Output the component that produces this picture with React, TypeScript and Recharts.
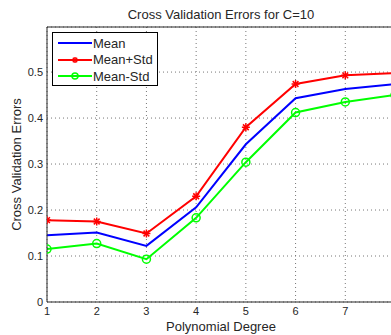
import React from "react";
import {
  LineChart,
  Line,
  XAxis,
  YAxis,
  CartesianGrid,
  ReferenceLine,
  Legend,
  Label,
} from "recharts";

const degrees = [1, 2, 3, 4, 5, 6, 7, 8];
const meanErr = [0.145, 0.151, 0.122, 0.206, 0.343, 0.443, 0.463, 0.474];
const meanPlusStd = [0.178, 0.175, 0.149, 0.23, 0.38, 0.474, 0.493, 0.498];
const meanMinusStd = [0.115, 0.127, 0.093, 0.183, 0.304, 0.412, 0.435, 0.45];
const xTicks = [1, 2, 3, 4, 5, 6, 7];
const yTicks = [0, 0.1, 0.2, 0.3, 0.4, 0.5];
const Y_MAX = 0.598;

const data = degrees.map((d, i) => ({
  deg: d,
  mean: meanErr[i],
  plus: meanPlusStd[i],
  minus: meanMinusStd[i],
}));

const FONT = "'Liberation Sans', Arial, sans-serif";
const TXT = "#262626";

function Star({ cx, cy, color, r = 4 }: any) {
  if (cx == null || cy == null) return null;
  const d = r * 0.72;
  return (
    <g stroke={color} strokeWidth={1.5}>
      <line x1={cx - r} y1={cy} x2={cx + r} y2={cy} />
      <line x1={cx} y1={cy - r} x2={cx} y2={cy + r} />
      <line x1={cx - d} y1={cy - d} x2={cx + d} y2={cy + d} />
      <line x1={cx - d} y1={cy + d} x2={cx + d} y2={cy - d} />
    </g>
  );
}

function Ring({ cx, cy, color, r = 4 }: any) {
  if (cx == null || cy == null) return null;
  return <circle cx={cx} cy={cy} r={r} fill="none" stroke={color} strokeWidth={1.5} />;
}

const series = [
  { key: "mean", name: "Mean", color: "#0000ff", marker: null },
  { key: "plus", name: "Mean+Std", color: "#ff0000", marker: "star" },
  { key: "minus", name: "Mean-Std", color: "#00ff00", marker: "ring" },
];

function LegendBox() {
  return (
    <div
      style={{
        width: 106,
        height: 54,
        border: "1px solid #000",
        background: "#fff",
        boxSizing: "border-box",
        fontFamily: FONT,
        fontSize: 13,
        color: TXT,
        paddingTop: 2,
        whiteSpace: "nowrap",
      }}
    >
      {series.map((s) => (
        <div key={s.key} style={{ display: "flex", alignItems: "center", height: 16.5 }}>
          <svg width={40} height={16} style={{ flex: "none" }}>
            <line x1={5} y1={8} x2={39} y2={8} stroke={s.color} strokeWidth={2} />
            {s.marker === "star" && <Star cx={22} cy={8} color={s.color} r={3} />}
            {s.marker === "ring" && <Ring cx={22} cy={8} color={s.color} r={3} />}
          </svg>
          <span>{s.name}</span>
        </div>
      ))}
    </div>
  );
}

export default function App() {
  return (
    <div
      style={{
        position: "fixed",
        left: 0,
        top: 0,
        width: 391,
        height: 335,
        overflow: "hidden",
        background: "#fff",
      }}
    >
      <div
        style={{
          position: "absolute",
          top: 7,
          left: 47,
          width: 348,
          textAlign: "center",
          fontFamily: FONT,
          fontSize: 13,
          color: TXT,
        }}
      >
        Cross Validation Errors for C=10
      </div>
      <LineChart
        width={400}
        height={335}
        data={data}
        margin={{ top: 27, right: 5, left: 0, bottom: 0 }}
      >
        <CartesianGrid stroke="#777" strokeDasharray="1 3" />
        <XAxis
          dataKey="deg"
          type="number"
          domain={[1, 8]}
          ticks={xTicks}
          height={33}
          tickLine={false}
          tickSize={0}
          tickMargin={5}
          stroke="#262626"
          tick={{ fontSize: 11, fill: TXT, fontFamily: FONT }}
          allowDataOverflow
        >
          <Label
            value="Polynomial Degree"
            position="insideBottom"
            offset={4}
            style={{ fontSize: 13, fill: TXT, fontFamily: FONT }}
          />
        </XAxis>
        <YAxis
          type="number"
          domain={[0, Y_MAX]}
          ticks={yTicks}
          width={47}
          tickLine={false}
          tickSize={0}
          tickMargin={4}
          stroke="#262626"
          tick={{ fontSize: 11, fill: TXT, fontFamily: FONT }}
          allowDataOverflow
        >
          <Label
            value="Cross Validation Errors"
            angle={-90}
            position="insideLeft"
            offset={16}
            style={{ textAnchor: "middle", fontSize: 13, fill: TXT, fontFamily: FONT }}
          />
        </YAxis>
        <ReferenceLine y={Y_MAX} stroke="#262626" />
        <Legend
          layout="horizontal"
          verticalAlign="middle"
          wrapperStyle={{ top: 32, left: 52, width: "auto" }}
          content={() => <LegendBox />}
        />
        <Line
          type="linear"
          dataKey="mean"
          name="Mean"
          stroke="#0000ff"
          strokeWidth={2}
          dot={false}
          isAnimationActive={false}
        />
        <Line
          type="linear"
          dataKey="plus"
          name="Mean+Std"
          stroke="#ff0000"
          strokeWidth={2}
          dot={(p: any) => <Star key={p.index} cx={p.cx} cy={p.cy} color="#ff0000" />}
          isAnimationActive={false}
        />
        <Line
          type="linear"
          dataKey="minus"
          name="Mean-Std"
          stroke="#00ff00"
          strokeWidth={2}
          dot={(p: any) => <Ring key={p.index} cx={p.cx} cy={p.cy} color="#00ff00" />}
          isAnimationActive={false}
        />
      </LineChart>
    </div>
  );
}
